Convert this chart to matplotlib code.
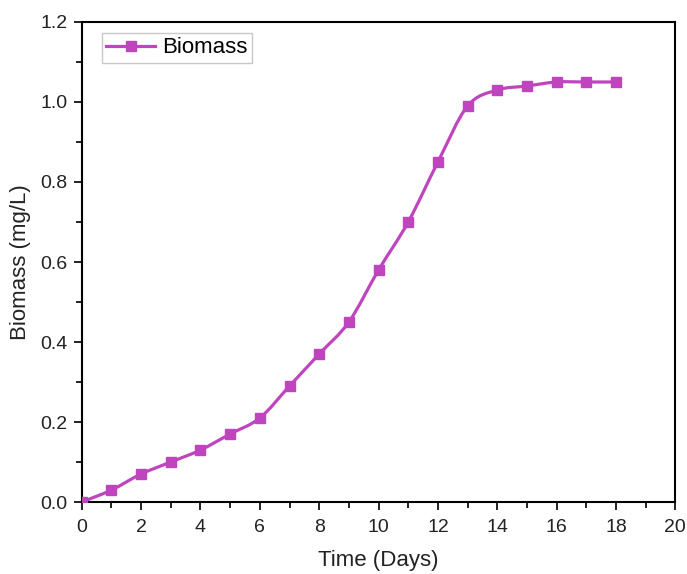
import matplotlib
matplotlib.use('Agg')
import numpy as np
from matplotlib import pyplot as plt
from matplotlib.path import Path
from matplotlib.patches import PathPatch
from matplotlib.lines import Line2D
from matplotlib.ticker import MultipleLocator

dias = [0, 1, 2, 3, 4, 5, 6, 7, 8, 9, 10, 11, 12, 13, 14, 15, 16, 17, 18]
biomasa = [0.0, 0.03, 0.07, 0.10, 0.13, 0.17, 0.21, 0.29, 0.37, 0.45,
           0.58, 0.70, 0.85, 0.99, 1.03, 1.04, 1.05, 1.05, 1.05]

color = '#BE45BE'
plt.rcParams['font.family'] = ['Liberation Sans', 'DejaVu Sans']


def curva_suave(xs, ys):
    # catmull-rom pasado a beziers, para que la linea pase por los puntos
    x = np.array(xs, dtype=float)
    y = np.array(ys, dtype=float)
    verts = [(x[0], y[0])]
    codes = [Path.MOVETO]
    n = len(x)
    for i in range(n - 1):
        x0, y0 = (x[i - 1], y[i - 1]) if i > 0 else (x[i], y[i])
        x3, y3 = (x[i + 2], y[i + 2]) if i + 2 < n else (x[i + 1], y[i + 1])
        c1 = (x[i] + (x[i + 1] - x0) / 6, y[i] + (y[i + 1] - y0) / 6)
        c2 = (x[i + 1] - (x3 - x[i]) / 6, y[i + 1] - (y3 - y[i]) / 6)
        verts += [c1, c2, (x[i + 1], y[i + 1])]
        codes += [Path.CURVE4] * 3
    return Path(verts, codes)


fig = plt.figure(figsize=(6.87, 5.74), dpi=100)
ax = fig.add_axes([0.119, 0.1254, 0.864, 0.8363])

ax.add_patch(PathPatch(curva_suave(dias, biomasa), facecolor='none',
                       edgecolor=color, lw=2.3, zorder=2))
ax.plot(dias, biomasa, ls='none', marker='s', ms=7.5, color=color, zorder=3)

ax.set_xlim(0, 20)
ax.set_ylim(0, 1.2)
ax.xaxis.set_major_locator(MultipleLocator(2))
ax.xaxis.set_minor_locator(MultipleLocator(1))
ax.yaxis.set_major_locator(MultipleLocator(0.2))
ax.yaxis.set_minor_locator(MultipleLocator(0.1))
ax.yaxis.set_major_formatter(plt.FormatStrFormatter('%.1f'))
ax.tick_params(which='both', direction='out', width=1.4, labelsize=14,
               colors='#222222', top=False, right=False)
ax.tick_params(which='major', length=6, pad=4)
ax.tick_params(axis='x', which='major', pad=6)
ax.tick_params(which='minor', length=4)
for s in ax.spines.values():
    s.set_linewidth(1.5)

ax.set_xlabel('Time (Days)', fontsize=16, color='#222222', labelpad=10)
ax.set_ylabel('Biomass (mg/L)', fontsize=16, color='#222222', labelpad=7)

h = Line2D([], [], color=color, lw=2.3, marker='s', ms=7.5)
leg = ax.legend([h], ['Biomass'], loc='upper left', fontsize=16,
                bbox_to_anchor=(0.034, 0.977), borderaxespad=0,
                fancybox=False, edgecolor='#BBBBBB', handlelength=2.2,
                handletextpad=0.3, borderpad=0.2)
leg.get_frame().set_linewidth(1.0)

plt.savefig('out.png', dpi=100)
